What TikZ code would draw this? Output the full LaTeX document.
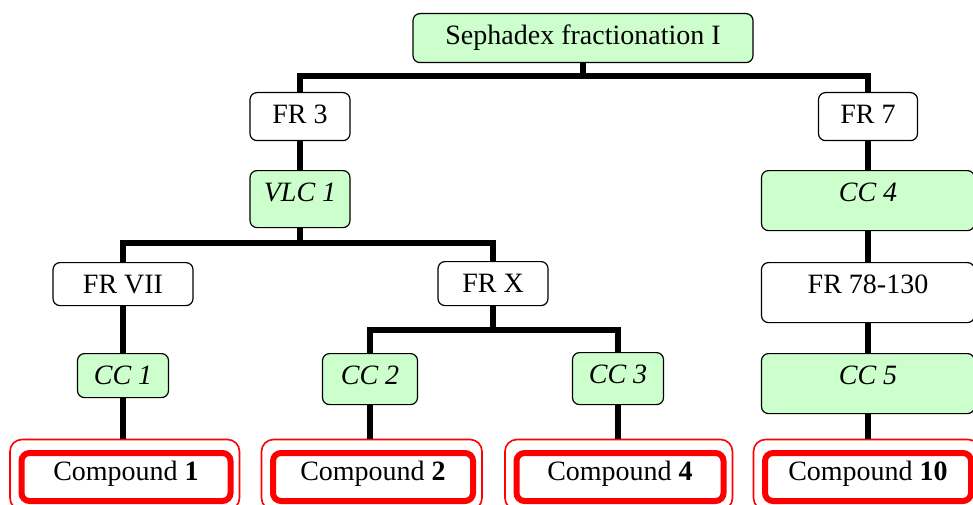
\documentclass[tikz,border=0pt]{standalone}
\usepackage{fontspec}
\setmainfont{Liberation Serif}
\usepackage{tikz}
\usetikzlibrary{positioning,calc}
\usepackage{xcolor}
\definecolor{colgreen}{HTML}{CCFFCC}
\definecolor{cpdred}{HTML}{FF0000}
\tikzset{
  every node/.style={font=\fontsize{28}{32}\selectfont}
}

\begin{document}
\begin{tikzpicture}[x=1pt,y=-1pt]
  % Define styles for boxes and links
  \tikzset{
    frbox/.style={
      draw,
      rounded corners=7pt,
      line width=1.2pt,
      fill=white,
      anchor=north,
      inner xsep=0pt,
      inner ysep=12pt,
      text height=19pt,
      text depth=#1
    },
    frbox/.default=5pt,
    ccbox/.style={frbox=#1, fill=colgreen},
    ccbox/.default=5pt,
    cpdbox/.style={
      draw=cpdred,
      rounded corners=8pt,
      line width=6pt,
      fill=white,
      anchor=north,
      inner xsep=0pt,
      inner ysep=8pt,
      text height=19pt,
      text depth=13pt
    },
    cpdframe/.style={
      draw=cpdred,
      line width=1.6pt,
      rounded corners=12pt
    },
    link/.style={
      draw=black,
      line width=5.5pt
    }
  }
  \useasboundingbox (0,0) rectangle (973,505);

  % Top of the scheme
  \node[ccbox=6pt, minimum width=340pt] (seph) at (583,13) {Sephadex fractionation I};

  % First fractions
  \node[frbox, minimum width=100pt] (fr3) at (300,92) {FR 3};
  \node[frbox, minimum width=99pt] (fr7) at (868,92) {FR 7};

  % Left branch
  \node[ccbox=14pt, minimum width=100pt] (vlc1) at (300,170) {\itshape VLC 1};
  \node[frbox=0pt, minimum width=140pt] (frvii) at (123,262) {FR VII};
  \node[frbox=1pt, minimum width=110pt] (frx) at (493,261) {FR X};
  \node[ccbox=1pt, minimum width=91pt] (cc1) at (123,353) {\itshape CC 1};
  \node[ccbox=8pt, minimum width=95pt] (cc2) at (370,353) {\itshape CC 2};
  \node[ccbox=9pt, minimum width=91pt] (cc3) at (618,352) {\itshape CC 3};

  % Right branch
  \node[ccbox=17pt, minimum width=213pt] (cc4) at (868,170) {\itshape CC 4};
  \node[frbox=17pt, minimum width=213pt] (fr78) at (868,262) {FR 78-130};
  \node[ccbox=17pt, minimum width=213pt] (cc5) at (868,353) {\itshape CC 5};

  % Isolated compounds, each with a thin outer frame
  \node[cpdbox, minimum width=209pt] (cpd1) at (126,450) {Compound \textbf{1}};
  \node[cpdbox, minimum width=200pt] (cpd2) at (373,450) {Compound \textbf{2}};
  \node[cpdbox, minimum width=207pt] (cpd4) at (620,450) {Compound \textbf{4}};
  \node[cpdbox, minimum width=206pt] (cpd10) at (868,450) {Compound \textbf{10}};
  \foreach \c in {cpd1,cpd2,cpd4,cpd10} {
    \draw[cpdframe] ([xshift=-8.5pt,yshift=10.5pt]\c.north west) rectangle ([xshift=6pt,yshift=-6pt]\c.south east);
    \coordinate (\c-top) at ([yshift=11.3pt]\c.north);
  }

  % Split points of the tree
  \coordinate (split1) at (seph.south |- 0,76);
  \coordinate (split2) at (vlc1.south |- 0,243);
  \coordinate (split3) at (frx.south |- 0,330);

  % Draw the links
  \draw[link] (seph.south) -- (split1);
  \draw[link] (fr3.north) |- (split1) -| (fr7.north);
  \draw[link] (fr3) -- (vlc1);
  \draw[link] (vlc1.south) -- (split2);
  \draw[link] (frvii.north) |- (split2) -| (frx.north);
  \draw[link] (frx.south) -- (split3);
  \draw[link] (cc2.north) |- (split3) -| (cc3.north);
  \draw[link] (frvii) -- (cc1);
  \draw[link] (cc1.south) -- (cc1.south |- cpd1-top);
  \draw[link] (cc2.south) -- (cc2.south |- cpd2-top);
  \draw[link] (cc3.south) -- (cc3.south |- cpd4-top);
  \draw[link] (fr7) -- (cc4);
  \draw[link] (cc4) -- (fr78);
  \draw[link] (fr78) -- (cc5);
  \draw[link] (cc5.south) -- (cc5.south |- cpd10-top);
\end{tikzpicture}
\end{document}
